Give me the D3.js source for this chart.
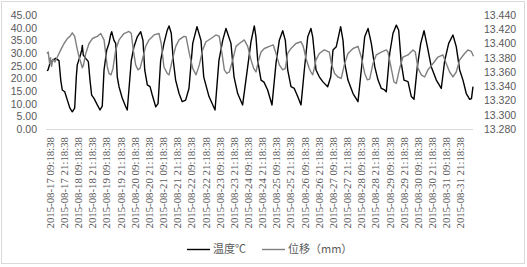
<!DOCTYPE html>
<html><head><meta charset="utf-8">
<script src="https://cdn.jsdelivr.net/npm/d3@7"></script>
<style>body{margin:0;background:#fff}svg{display:block}</style>
</head><body><svg id="c" width="527" height="267"></svg>
<script>
// hours since 2015-08-17 09:18:38
const tickLabels = ["2015-08-17 09:18:38","2015-08-17 21:18:38","2015-08-18 09:18:38","2015-08-18 21:18:38","2015-08-19 09:18:38","2015-08-19 21:18:38","2015-08-20 09:18:38","2015-08-20 21:18:38","2015-08-21 09:18:38","2015-08-21 21:18:38","2015-08-22 09:18:38","2015-08-22 21:18:38","2015-08-23 09:18:38","2015-08-23 21:18:38","2015-08-24 09:18:38","2015-08-24 21:18:38","2015-08-25 09:18:38","2015-08-25 21:18:38","2015-08-26 09:18:38","2015-08-26 21:18:38","2015-08-27 09:18:38","2015-08-27 21:18:38","2015-08-28 09:18:38","2015-08-28 21:18:38","2015-08-29 09:18:38","2015-08-29 21:18:38","2015-08-30 09:18:38","2015-08-30 21:18:38","2015-08-31 09:18:38","2015-08-31 21:18:38"];
const tickHours = [0,12,24,36,48,60,72,84,96,108,120,132,144,156,168,180,192,204,216,228,240,252,264,276,288,300,312,324,336,348];
const leftTicks = [0,5,10,15,20,25,30,35,40,45];
const rightTicks = [13.28,13.30,13.32,13.34,13.36,13.38,13.40,13.42,13.44];
const seriesNames = ["温度℃","位移（mm）"];

const tempHours = [-2.2,-1.3,0.4,2.3,5.2,8.0,9.5,10.8,12.9,15.1,17.3,19.3,21.3,22.7,23.5,25.8,27.3,27.8,28.6,30.7,32.9,34.3,35.7,37.7,40.5,42.8,44.7,46.2,48.5,50.4,51.7,52.7,54.6,56.1,57.4,58.9,61.7,64.6,65.9,68.2,69.3,71.6,74.4,77.3,79.2,80.7,82.9,85.2,87.1,90.0,92.0,94.2,97.0,99.8,101.3,103.2,104.9,106.9,109.8,112.5,115.4,118.2,121.4,125.0,128.4,130.7,135.2,140.3,143.6,146.8,149.6,153.8,156.4,159.5,163.7,168.0,170.8,173.6,175.0,176.5,179.3,181.8,184.9,188.6,192.0,194.8,197.7,199.9,201.9,204.7,207.5,210.4,213.2,216.0,218.9,221.6,223.1,225.9,228.7,231.6,235.8,238.4,240.3,243.1,246.8,248.8,250.2,253.0,257.3,261.5,264.3,267.2,270.0,272.8,275.7,278.5,281.3,284.1,285.5,288.4,291.2,294.0,296.0,298.2,300.5,303.9,306.7,309.0,311.8,314.7,317.5,320.3,323.6,327.9,332.1,335.0,338.4,342.0,344.8,347.7,350.5,353.3,356.2,357.7,359];
const tempValues = [23,23.3,26,27,27.9,27,19.3,15.4,14.7,11.4,8.2,6.8,8.2,20.6,25.3,28.6,31.2,33,29.2,27.9,26.6,19.3,13.4,12.1,9.5,7.5,9,23.3,31.2,33.8,37,38.4,35,33.8,20.6,16.7,12.1,8.8,7.5,20.6,27,32.5,36.4,38.4,35,23.3,17.4,16.7,13.4,8.8,10,27,33.8,39,40.7,37.8,27,19.3,14,10.8,11.4,16,33.8,40.4,35,20.6,12.8,7.5,27,35,39.7,33.8,20.6,14,9.5,24.6,34.5,40.7,36.4,27,19.3,18.5,15.4,9.5,26,35,38.8,35,23.3,16.7,16,12.8,9.5,23.3,36.4,39.7,36.4,23.3,20.6,18.7,16.7,20.6,31.2,32.5,40.4,35,26,19.3,14,10.8,23.3,36.4,39.7,33.8,24.6,19.3,16,15.4,14.7,29.9,37.8,41,39,26,19.3,18.7,12.8,11.7,24.6,33.8,38.8,32.5,24.6,19.3,16,27,33.8,37.1,32.5,23.3,19.3,14,11.7,12,16.7];

const dispHours = [-2.2,-1.1,0,0.8,1.7,2.9,4.6,6.3,9.5,12.3,15.1,17.3,19.3,21.3,23.0,25.0,26.4,27.8,28.8,30.7,33.5,36.3,40.5,43.4,46.2,47.6,49.0,50.4,52.1,53.8,56.1,58.9,63.1,67.4,69.3,71.0,73.0,75.0,76.7,78.6,81.5,84.3,88.6,92.8,94.7,97.0,99.8,101.3,104.1,107.0,109.7,114.0,115.7,118.5,121.4,124.2,127.0,129.8,132.6,136.9,141.1,143.9,146.2,148.2,150.2,152.4,155.3,158.1,160.9,165.1,168.0,170.8,173.1,175.0,177.3,179.3,182.1,186.3,189.7,192.0,194.8,197.7,199.9,201.9,204.7,208.9,213.2,215.1,217.4,220.2,221.6,223.1,224.4,225.9,228.7,232.9,237.2,238.9,241.7,244.5,247.3,250.2,253.0,257.3,261.5,264.3,267.2,269.4,271.4,274.2,277.0,281.3,285.5,286.9,289.7,292.0,294.0,296.8,299.6,303.9,308.1,310.1,312.4,315.2,318.0,320.8,325.1,329.3,333.5,336.3,339.2,342.0,344.8,347.7,351.9,354.7,357.5,359.4];
const dispValues = [13.386,13.388,13.372,13.380,13.368,13.378,13.374,13.380,13.391,13.400,13.407,13.410,13.415,13.410,13.396,13.381,13.374,13.366,13.370,13.386,13.400,13.407,13.410,13.414,13.405,13.386,13.367,13.358,13.356,13.365,13.391,13.405,13.414,13.417,13.414,13.391,13.370,13.363,13.365,13.377,13.396,13.405,13.412,13.414,13.400,13.367,13.358,13.356,13.377,13.396,13.405,13.410,13.4096,13.386,13.365,13.356,13.370,13.391,13.4025,13.407,13.412,13.410,13.386,13.363,13.358,13.360,13.377,13.396,13.400,13.405,13.396,13.377,13.365,13.360,13.377,13.388,13.393,13.396,13.398,13.386,13.370,13.363,13.365,13.386,13.393,13.400,13.4025,13.396,13.379,13.365,13.360,13.356,13.365,13.377,13.386,13.391,13.388,13.372,13.358,13.353,13.351,13.372,13.386,13.393,13.396,13.381,13.358,13.349,13.350,13.372,13.384,13.388,13.391,13.388,13.365,13.346,13.344,13.365,13.381,13.384,13.391,13.388,13.365,13.356,13.353,13.363,13.372,13.381,13.384,13.372,13.360,13.353,13.360,13.377,13.386,13.391,13.389,13.382];

const svg = d3.select("#c");
const x = d3.scaleLinear().domain([-3, 359]).range([46, 473]);
const yL = d3.scaleLinear().domain([0, 45]).range([129, 15]);
const yR = d3.scaleLinear().domain([13.28, 13.44]).range([129, 15]);

svg.append("rect").attr("x",1.5).attr("y",1.5).attr("width",523).attr("height",262)
  .attr("fill","#fff").attr("stroke","#d9d9d9").attr("stroke-width",1);

// bottom axis line
svg.append("line").attr("x1",x(-3)).attr("x2",x(359)).attr("y1",129.5).attr("y2",129.5)
  .attr("stroke","#d9d9d9").attr("stroke-width",1);

const lf = "Liberation Sans, Arial, sans-serif";
const gL = svg.append("g").attr("transform","translate(37,0)")
  .call(d3.axisLeft(yL).tickValues(leftTicks).tickFormat(d3.format(".2f")).tickSize(0).tickPadding(0));
gL.select(".domain").remove();
gL.selectAll("text").attr("font-family",lf).attr("font-size",10.5).attr("fill","#595959");

const gR = svg.append("g").attr("transform","translate(484,0)")
  .call(d3.axisRight(yR).tickValues(rightTicks).tickFormat(d3.format(".3f")).tickSize(0).tickPadding(0));
gR.select(".domain").remove();
gR.selectAll("text").attr("font-family",lf).attr("font-size",10.5).attr("fill","#595959");

const gX = svg.append("g").attr("transform","translate(0,129)")
  .call(d3.axisBottom(x).tickValues(tickHours).tickFormat((d,i)=>tickLabels[i]).tickSize(0));
gX.select(".domain").remove();
gX.selectAll("text")
  .attr("font-family","Liberation Serif, serif").attr("font-size",10.8).attr("fill","#595959")
  .attr("transform","rotate(-90)").attr("text-anchor","end")
  .attr("x",-8).attr("y",0).attr("dy","0.35em");

const tempData = tempHours.map((h,i)=>[h,tempValues[i]]);
const dispData = dispHours.map((h,i)=>[h,dispValues[i]]);

svg.append("path").datum(tempData)
  .attr("d", d3.line().x(d=>x(d[0])).y(d=>yL(d[1])))
  .attr("fill","none").attr("stroke","#000").attr("stroke-width",1.4).attr("stroke-linejoin","round");
svg.append("path").datum(dispData)
  .attr("d", d3.line().x(d=>x(d[0])).y(d=>yR(d[1])))
  .attr("fill","none").attr("stroke","#7f7f7f").attr("stroke-width",1.4).attr("stroke-linejoin","round");

// legend
const cf = "Noto Sans CJK SC, sans-serif";
const leg = [{x:187, c:"#000", t:seriesNames[0]},{x:262, c:"#7f7f7f", t:seriesNames[1]}];
leg.forEach(l=>{
  svg.append("line").attr("x1",l.x).attr("x2",l.x+23).attr("y1",249.5).attr("y2",249.5)
    .attr("stroke",l.c).attr("stroke-width",1.4);
  svg.append("text").attr("x",l.x+26).attr("y",249.5).attr("dy","0.35em")
    .attr("font-family",cf).attr("font-size",11).attr("fill","#595959").text(l.t);
});
</script></body></html>
